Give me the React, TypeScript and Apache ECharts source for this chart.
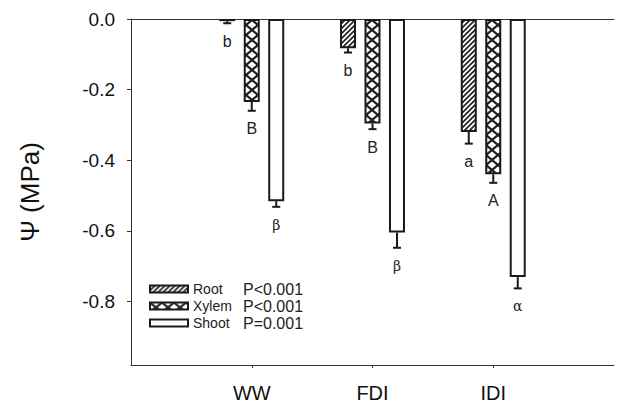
import React, { useEffect, useRef } from 'react';
import * as echarts from 'echarts';

const categories = ['', 'WW', 'FDI', 'IDI', ''];
const seriesNames = ['Root', 'Xylem', 'Shoot'];
const pValues = ['P<0.001', 'P<0.001', 'P=0.001'];
const rootValues = [null, -0.006, -0.083, -0.32, null];
const rootErrors = [null, 0.006, 0.012, 0.033, null];
const rootLetters = ['', 'b', 'b', 'a', ''];
const xylemValues = [null, -0.235, -0.296, -0.44, null];
const xylemErrors = [null, 0.025, 0.016, 0.024, null];
const xylemLetters = ['', 'B', 'B', 'A', ''];
const shootValues = [null, -0.516, -0.605, -0.731, null];
const shootErrors = [null, 0.016, 0.043, 0.032, null];
const shootLetters = ['', 'β', 'β', 'α', ''];
const yTicks = [0, -0.2, -0.4, -0.6, -0.8];
const yMin = -0.98;
const yMax = 0;

function makeHatch(): HTMLCanvasElement {
  const c = document.createElement('canvas');
  c.width = 5;
  c.height = 5;
  const ctx = c.getContext('2d')!;
  ctx.fillStyle = '#fff';
  ctx.fillRect(0, 0, 5, 5);
  ctx.strokeStyle = '#222';
  ctx.lineWidth = 1.7;
  ctx.beginPath();
  ctx.moveTo(-1, 6); ctx.lineTo(6, -1);
  ctx.moveTo(-1, 1); ctx.lineTo(1, -1);
  ctx.moveTo(4, 6); ctx.lineTo(6, 4);
  ctx.stroke();
  return c;
}

function makeCross(): HTMLCanvasElement {
  const w = 12, h = 10;
  const c = document.createElement('canvas');
  c.width = w;
  c.height = h;
  const ctx = c.getContext('2d')!;
  ctx.fillStyle = '#fff';
  ctx.fillRect(0, 0, w, h);
  ctx.strokeStyle = '#222';
  ctx.lineWidth = 2.2;
  ctx.beginPath();
  ctx.moveTo(0, 0); ctx.lineTo(w, h);
  ctx.moveTo(w, 0); ctx.lineTo(0, h);
  ctx.stroke();
  return c;
}

export default function App() {
  const ref = useRef<HTMLDivElement>(null);
  useEffect(() => {
    if (!ref.current) return;
    const chart = echarts.init(ref.current, null, { renderer: 'svg' });
    const valuesArr = [rootValues, xylemValues, shootValues];
    const errArr = [rootErrors, xylemErrors, shootErrors];
    const letterArr = [rootLetters, xylemLetters, shootLetters];
    const fills: any[] = [
      { image: makeHatch(), repeat: 'repeat' },
      { image: makeCross(), repeat: 'repeat' },
      '#ffffff',
    ];
    const errData: any[] = [];
    const errLetters: string[] = [];
    valuesArr.forEach((vals, g) => {
      vals.forEach((v, i) => {
        if (v === null) return;
        errData.push([i, v, errArr[g][i], g]);
        errLetters.push(letterArr[g][i]);
      });
    });
    const barSeries = seriesNames.map((name, g) => ({
      name,
      type: 'bar',
      data: valuesArr[g],
      barWidth: 16,
      barGap: '53%',
      itemStyle: { color: fills[g], borderColor: '#1a1a1a', borderWidth: 2 },
    }));
    const option: any = {
      animation: false,
      grid: { left: 131, top: 19, right: -4, bottom: 38 },
      legend: {
        orient: 'vertical',
        left: 149,
        top: 281,
        padding: 0,
        itemWidth: 38,
        itemHeight: 7,
        itemGap: 1,
        icon: 'rect',
        data: seriesNames,
        formatter: (name: string) => {
          const i = seriesNames.indexOf(name);
          return `{n|${name}}{p|${pValues[i]}}`;
        },
        textStyle: {
          rich: {
            n: { fontFamily: 'Liberation Sans', fontSize: 14, color: '#222', width: 50, lineHeight: 17 },
            p: { fontFamily: 'Liberation Sans', fontSize: 16, color: '#222', lineHeight: 17 },
          },
        },
      },
      xAxis: [
        {
          type: 'category',
          data: categories,
          boundaryGap: false,
          position: 'bottom',
          axisLine: { onZero: false, lineStyle: { color: '#333', width: 1 } },
          axisTick: { length: 3, interval: (i: number) => i >= 1 && i <= 3, lineStyle: { color: '#333' } },
          axisLabel: {
            interval: 0,
            margin: 18,
            fontFamily: 'Liberation Sans',
            fontSize: 20,
            color: '#111',
          },
        },
        {
          type: 'category',
          data: categories,
          boundaryGap: false,
          position: 'top',
          axisLine: { onZero: false, lineStyle: { color: '#333', width: 1 } },
          axisTick: { show: false },
          axisLabel: { show: false },
        },
      ],
      yAxis: {
        type: 'value',
        min: yMin,
        max: yMax,
        name: 'Ψ (MPa)',
        nameLocation: 'middle',
        nameGap: 88,
        nameTextStyle: { fontFamily: 'Liberation Sans', fontSize: 26, color: '#111' },
        splitLine: { show: false },
        axisLine: { show: true, onZero: false, lineStyle: { color: '#333', width: 1 } },
        axisTick: { show: true, length: 4, customValues: yTicks, lineStyle: { color: '#333' } },
        axisLabel: {
          customValues: yTicks,
          margin: 16,
          fontFamily: 'Liberation Sans',
          fontSize: 19,
          color: '#111',
          formatter: (v: number) => v.toFixed(1),
        },
      },
      series: [
        ...barSeries,
        {
          type: 'custom',
          data: errData,
          z: 5,
          renderItem: (params: any, api: any) => {
            const idx = api.value(0);
            const v = api.value(1);
            const e = api.value(2);
            const g = api.value(3);
            const off = (g - 1) * 24.5;
            const p0 = api.coord([idx, v]);
            const p1 = api.coord([idx, v - e]);
            const x = p0[0] + off;
            const letter = errLetters[params.dataIndex];
            const greek = /[α-ω]/.test(letter);
            return {
              type: 'group',
              children: [
                { type: 'line', shape: { x1: x, y1: p0[1], x2: x, y2: p1[1] }, style: { stroke: '#1a1a1a', lineWidth: 2 } },
                { type: 'line', shape: { x1: x - 4, y1: p1[1], x2: x + 4, y2: p1[1] }, style: { stroke: '#1a1a1a', lineWidth: 2 } },
                {
                  type: 'text',
                  x,
                  y: p1[1] + 18,
                  style: {
                    text: letter,
                    align: 'center',
                    verticalAlign: 'middle',
                    fontFamily: greek ? 'DejaVu Serif' : 'Liberation Sans',
                    fontSize: greek ? 14 : 16,
                    fill: '#222',
                  },
                },
              ],
            };
          },
        },
      ],
    };
    chart.setOption(option);
    return () => chart.dispose();
  }, []);
  return <div ref={ref} style={{ width: 617, height: 403, position: 'absolute', left: 0, top: 0 }} />;
}
